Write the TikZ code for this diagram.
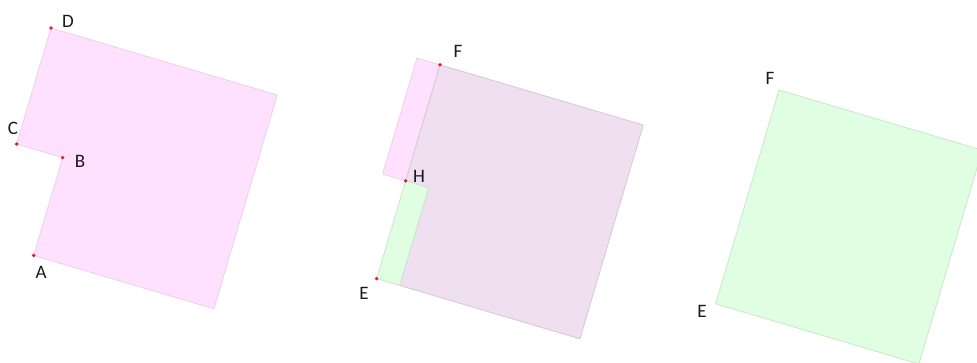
\documentclass[tikz,border=0pt]{standalone}
\usepackage{fontspec}
\setmainfont{Carlito}
\definecolor{pinkfill}{RGB}{255,224,254}
\definecolor{pinkedge}{RGB}{236,212,236}
\definecolor{purplefill}{RGB}{240,222,241}
\definecolor{purpleedge}{RGB}{214,204,214}
\definecolor{greenfill}{RGB}{224,254,226}
\definecolor{greenedge}{RGB}{206,232,208}
\definecolor{dotred}{RGB}{225,30,40}
\definecolor{labeltext}{RGB}{25,25,25}
\begin{document}
\begin{tikzpicture}[x=1pt,y=-1pt,
  lbl/.style={font=\fontsize{19}{19}\selectfont, text=labeltext, inner sep=0pt},
  reddot/.style={circle, fill=dotred, inner sep=0pt, minimum size=3.8pt},
  pinkpoly/.style={fill=pinkfill, draw=pinkedge, line width=0.9pt, line join=round},
  purplepoly/.style={fill=purplefill, draw=purpleedge, line width=0.9pt, line join=round},
  greenpoly/.style={fill=greenfill, draw=greenedge, line width=0.9pt, line join=round}]
\useasboundingbox (0,0) rectangle (977,362);
\clip (0,0) rectangle (977,362);
% first figure: original shape
\begin{scope}[shift={(51,28)}, rotate=-16.5]
  \path[pinkpoly] (0,0) -- (236,0) -- (236,223) -- (48,223) -- (48,121) -- (0,121) -- cycle;
  \node[reddot] (dD) at (0,0) {};
  \node[reddot] (dC) at (0,121) {};
  \node[reddot] (dB) at (48,121) {};
  \node[reddot] (dA) at (48,223) {};
\end{scope}
\node[lbl] (lD) at (68,21) {D};
\node[lbl] (lC) at (13,128) {C};
\node[lbl] (lB) at (80,161) {B};
\node[lbl] (lA) at (41,272) {A};
% second figure: cut and move
\begin{scope}[shift={(417,58)}, rotate=-16.5]
  \path[pinkpoly] (0,0) -- (24,0) -- (24,121) -- (0,121) -- cycle;
  \path[purplepoly] (24,0) -- (236,0) -- (236,223) -- (48,223) -- (48,121) -- (24,121) -- cycle;
  \path[greenpoly] (24,121) -- (48,121) -- (48,223) -- (24,223) -- cycle;
  \node[reddot] (dF) at (24,0) {};
  \node[reddot] (dH) at (24,121) {};
  \node[reddot] (dE) at (24,223) {};
\end{scope}
\node[lbl] (lF) at (458,51) {F};
\node[lbl] (lH) at (419,176) {H};
\node[lbl] (lE) at (364,293) {E};
% third figure: resulting rectangle
\begin{scope}[shift={(779,90)}, rotate=-16.5]
  \path[greenpoly] (0,0) -- (212,0) -- (212,223) -- (0,223) -- cycle;
\end{scope}
\node[lbl] (lF2) at (770,78) {F};
\node[lbl] (lE2) at (702,311) {E};
\end{tikzpicture}
\end{document}
